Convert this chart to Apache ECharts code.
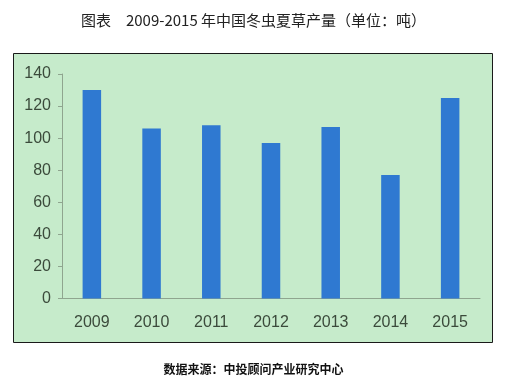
<!DOCTYPE html>
<html><head><meta charset="utf-8">
<script src="https://cdn.jsdelivr.net/npm/echarts@6/dist/echarts.min.js"></script>
<style>html,body{margin:0;padding:0;background:#fff}#c{width:507px;height:379px}</style>
</head><body><div id="c"></div>
<script>
const categories = ['2009','2010','2011','2012','2013','2014','2015'];
const production = [130, 106, 108, 97, 107, 77, 125];
const yTicks = [0, 20, 40, 60, 80, 100, 120, 140];
const titleText = '图表　2009-2015 年中国冬虫夏草产量（单位：吨）';
const sourceText = '数据来源：中投顾问产业研究中心';

const chart = echarts.init(document.getElementById('c'), null, {renderer:'canvas'});
chart.setOption({
  animation: false,
  backgroundColor: '#ffffff',
  title: [{
    text: titleText, left: 'center', top: 8,
    textStyle: {fontFamily: '"Noto Sans CJK SC"', fontSize: 15, fontWeight: 'normal', color: '#222'}
  },{
    text: sourceText, left: 'center', top: 358,
    textStyle: {fontFamily: '"Noto Sans CJK SC"', fontSize: 12, fontWeight: 'bold', color: '#111'}
  }],
  graphic: [{
    type: 'rect', z: -10, silent: true,
    shape: {x: 13.5, y: 53.5, width: 479, height: 289},
    style: {fill: '#c6ebcb', stroke: '#1a1a1a', lineWidth: 1}
  }],
  grid: {left: 62, right: 27, top: 74, bottom: 80.5},
  xAxis: {
    type: 'category', data: categories,
    axisLine: {lineStyle: {color: '#8fa58f', width: 1}},
    axisTick: {show: false},
    axisLabel: {fontFamily: 'Arial, "Liberation Sans"', fontSize: 16, color: '#3b4a3b', margin: 16}
  },
  yAxis: {
    type: 'value', min: yTicks[0], max: yTicks[yTicks.length-1], interval: 20,
    axisLine: {show: true, lineStyle: {color: '#8fa58f', width: 1}},
    axisTick: {show: true, length: 4, lineStyle: {color: '#8fa58f'}},
    splitLine: {show: false},
    axisLabel: {fontFamily: 'Arial, "Liberation Sans"', fontSize: 16, color: '#3b4a3b', margin: 11}
  },
  series: [{
    type: 'bar', data: production, barWidth: '31%',
    itemStyle: {color: '#2f79d1'}
  }]
});
</script></body></html>
